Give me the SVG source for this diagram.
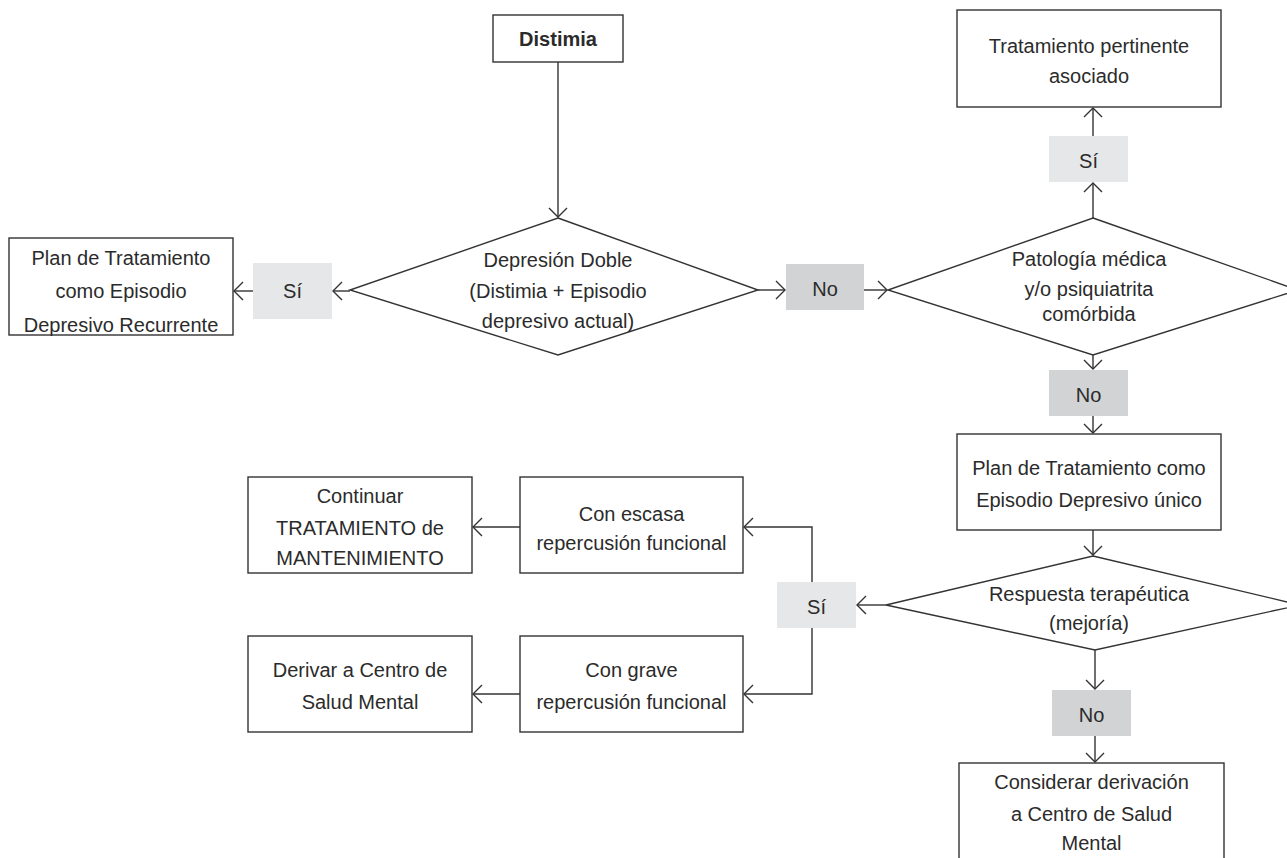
<svg xmlns="http://www.w3.org/2000/svg" width="1287" height="858" viewBox="0 0 1287 858">
<defs>
<style>
.box{fill:#fff;stroke:#333;stroke-width:1.4}
.dia{fill:#fff;stroke:#333;stroke-width:1.4}
.si{fill:#e6e7e8}
.no{fill:#d1d3d4}
.t{font-family:"Liberation Sans",Arial,sans-serif;font-size:20px;fill:#2b2b2b;text-anchor:middle}
.b{font-weight:bold}
.c{fill:none;stroke:#333;stroke-width:1.4}
</style>
<marker id="ah" markerUnits="userSpaceOnUse" viewBox="-11 -11 13 22" refX="0" refY="0" markerWidth="13" markerHeight="22" orient="auto">
<path d="M-9,-9 L0,0 L-9,9" fill="none" stroke="#333" stroke-width="1.4"/>
</marker>
</defs>
<rect width="1287" height="858" fill="#fff"/>

<g id="connectors">
<path class="c" d="M558,62 V217" marker-end="url(#ah)"/>
<path class="c" d="M350,291 H333" marker-end="url(#ah)"/>
<path class="c" d="M253,291 H234" marker-end="url(#ah)"/>
<path class="c" d="M758,290 H785" marker-end="url(#ah)"/>
<path class="c" d="M864,290 H887" marker-end="url(#ah)"/>
<path class="c" d="M1093,218 V183" marker-end="url(#ah)"/>
<path class="c" d="M1093,136 V108" marker-end="url(#ah)"/>
<path class="c" d="M1093,355 V369" marker-end="url(#ah)"/>
<path class="c" d="M1093,416 V433" marker-end="url(#ah)"/>
<path class="c" d="M1093,530 V555" marker-end="url(#ah)"/>
<path class="c" d="M886,605 H857" marker-end="url(#ah)"/>
<path class="c" d="M812,582 V527 H744" marker-end="url(#ah)"/>
<path class="c" d="M812,628 V694 H744" marker-end="url(#ah)"/>
<path class="c" d="M520,527 H473" marker-end="url(#ah)"/>
<path class="c" d="M520,694 H473" marker-end="url(#ah)"/>
<path class="c" d="M1095,650 V689" marker-end="url(#ah)"/>
<path class="c" d="M1095,736 V762" marker-end="url(#ah)"/>
</g>

<g id="n-distimia">
<rect class="box" x="493" y="15" width="130" height="47"/>
<text class="t b" x="558" y="46">Distimia</text>
</g>

<g id="n-depresion-doble">
<polygon class="dia" points="558,218 758,290 558,355 350,290"/>
<text class="t" x="558" y="267">Depresión Doble</text>
<text class="t" x="558" y="298">(Distimia + Episodio</text>
<text class="t" x="558" y="328">depresivo actual)</text>
</g>

<g id="l-si-1">
<rect class="si" x="253" y="263" width="79" height="56"/>
<text class="t" x="292.5" y="298">Sí</text>
</g>

<g id="n-plan-recurrente">
<rect class="box" x="9" y="238" width="224" height="97"/>
<text class="t" x="121" y="265">Plan de Tratamiento</text>
<text class="t" x="121" y="298">como Episodio</text>
<text class="t" x="121" y="332">Depresivo Recurrente</text>
</g>

<g id="l-no-1">
<rect class="no" x="786" y="264" width="78" height="46"/>
<text class="t" x="825" y="296">No</text>
</g>

<g id="n-patologia">
<polygon class="dia" points="1093,218 1298,290 1093,355 888,290"/>
<text class="t" x="1089" y="266">Patología médica</text>
<text class="t" x="1089" y="296">y/o psiquiatrita</text>
<text class="t" x="1089" y="321">comórbida</text>
</g>

<g id="l-si-2">
<rect class="si" x="1049" y="136" width="79" height="46"/>
<text class="t" x="1088.5" y="168">Sí</text>
</g>

<g id="n-tratamiento-pertinente">
<rect class="box" x="957" y="10" width="264" height="97"/>
<text class="t" x="1089" y="53">Tratamiento pertinente</text>
<text class="t" x="1089" y="83">asociado</text>
</g>

<g id="l-no-2">
<rect class="no" x="1049" y="370" width="79" height="46"/>
<text class="t" x="1088.5" y="402">No</text>
</g>

<g id="n-plan-unico">
<rect class="box" x="957" y="434" width="264" height="96"/>
<text class="t" x="1089" y="475">Plan de Tratamiento como</text>
<text class="t" x="1089" y="507">Episodio Depresivo único</text>
</g>

<g id="n-respuesta">
<polygon class="dia" points="1093,556 1300,605 1095,650 886,605"/>
<text class="t" x="1089" y="601">Respuesta terapéutica</text>
<text class="t" x="1089" y="630">(mejoría)</text>
</g>

<g id="l-si-3">
<rect class="si" x="777" y="582" width="79" height="46"/>
<text class="t" x="816.5" y="614">Sí</text>
</g>

<g id="n-escasa">
<rect class="box" x="520" y="477" width="223" height="96"/>
<text class="t" x="631.5" y="521">Con escasa</text>
<text class="t" x="631.5" y="550">repercusión funcional</text>
</g>

<g id="n-continuar">
<rect class="box" x="248" y="477" width="224" height="96"/>
<text class="t" x="360" y="503">Continuar</text>
<text class="t" x="360" y="535">TRATAMIENTO de</text>
<text class="t" x="360" y="565">MANTENIMIENTO</text>
</g>

<g id="n-grave">
<rect class="box" x="520" y="636" width="223" height="96"/>
<text class="t" x="631.5" y="677">Con grave</text>
<text class="t" x="631.5" y="709">repercusión funcional</text>
</g>

<g id="n-derivar">
<rect class="box" x="248" y="636" width="224" height="96"/>
<text class="t" x="360" y="677">Derivar a Centro de</text>
<text class="t" x="360" y="709">Salud Mental</text>
</g>

<g id="l-no-3">
<rect class="no" x="1052" y="690" width="79" height="46"/>
<text class="t" x="1091.5" y="722">No</text>
</g>

<g id="n-considerar">
<rect class="box" x="959" y="763" width="265" height="110"/>
<text class="t" x="1091.5" y="789">Considerar derivación</text>
<text class="t" x="1091.5" y="821">a Centro de Salud</text>
<text class="t" x="1091.5" y="850">Mental</text>
</g>
</svg>
